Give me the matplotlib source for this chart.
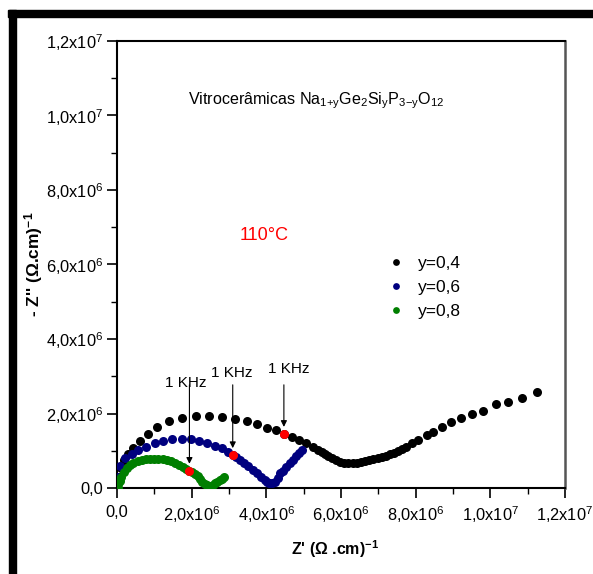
import matplotlib
matplotlib.use("Agg")
import matplotlib.pyplot as plt
from matplotlib.patches import Rectangle
from matplotlib.ticker import FuncFormatter, MultipleLocator

plt.rcParams['font.family'] = ['Liberation Sans', 'DejaVu Sans']
plt.rcParams['mathtext.fontset'] = 'custom'
plt.rcParams['mathtext.rm'] = 'Liberation Sans'
plt.rcParams['mathtext.bf'] = 'Liberation Sans:bold'

# Z' and -Z'' in units of 1e6
x04 = [0.05, 0.12, 0.20, 0.30, 0.44, 0.62, 0.82, 1.08, 1.40, 1.75, 2.12, 2.46, 2.82, 3.16, 3.47,
       3.74, 4.01, 4.25, 4.47, 4.68, 4.88, 5.06, 5.24, 5.39, 5.48, 5.57, 5.66, 5.75, 5.86, 5.97,
       6.08, 6.20, 6.31, 6.42, 6.53, 6.64, 6.75, 6.87, 6.98, 7.09, 7.20, 7.31, 7.42, 7.54, 7.64,
       7.74, 7.89, 8.07, 8.30, 8.47, 8.70, 8.95, 9.22, 9.52, 9.79, 10.15, 10.47, 10.86, 11.24]
y04 = [0.30, 0.55, 0.75, 0.92, 1.07, 1.27, 1.44, 1.63, 1.79, 1.88, 1.93, 1.93, 1.91, 1.86, 1.80,
       1.71, 1.62, 1.56, 1.46, 1.36, 1.29, 1.20, 1.11, 1.02, 0.96, 0.91, 0.85, 0.80, 0.75, 0.71,
       0.68, 0.66, 0.66, 0.68, 0.70, 0.72, 0.75, 0.78, 0.81, 0.84, 0.87, 0.91, 0.95, 1.00, 1.05,
       1.11, 1.20, 1.29, 1.42, 1.51, 1.63, 1.76, 1.89, 1.99, 2.07, 2.25, 2.30, 2.41, 2.57]

x06 = [0.02, 0.08, 0.21, 0.39, 0.57, 0.79, 1.02, 1.24, 1.48, 1.73, 1.97, 2.20, 2.42, 2.62, 2.80,
       2.98, 3.10, 3.20, 3.29, 3.40, 3.52, 3.63, 3.74, 3.85, 3.96, 4.03, 4.08, 4.15, 4.23, 4.30,
       4.37, 4.45, 4.53, 4.63, 4.71, 4.79, 4.87, 4.95]
y06 = [0.30, 0.60, 0.80, 0.92, 1.02, 1.11, 1.22, 1.27, 1.31, 1.32, 1.31, 1.26, 1.20, 1.14, 1.07,
       0.97, 0.89, 0.82, 0.75, 0.67, 0.59, 0.49, 0.39, 0.30, 0.21, 0.16, 0.13, 0.13, 0.17, 0.27,
       0.39, 0.47, 0.56, 0.66, 0.75, 0.85, 0.95, 1.03]

x08 = [0.02, 0.04, 0.07, 0.12, 0.18, 0.26, 0.35, 0.44, 0.55, 0.66, 0.77, 0.88, 0.99, 1.11, 1.22,
       1.33, 1.44, 1.55, 1.66, 1.78, 1.86, 1.94, 2.02, 2.09, 2.16, 2.22, 2.29, 2.36, 2.41, 2.45,
       2.50, 2.56, 2.62, 2.68, 2.75, 2.81, 2.87]
y08 = [0.00, 0.10, 0.20, 0.30, 0.42, 0.53, 0.61, 0.68, 0.73, 0.76, 0.78, 0.79, 0.79, 0.79, 0.77,
       0.75, 0.72, 0.68, 0.63, 0.57, 0.52, 0.47, 0.42, 0.38, 0.31, 0.23, 0.17, 0.11, 0.07, 0.04,
       0.05, 0.09, 0.13, 0.17, 0.21, 0.25, 0.30]

# 1 kHz points (y=0,4 / 0,6 / 0,8)
khz_x = [4.47, 3.10, 1.94]
khz_y = [1.46, 0.89, 0.47]
khz_top = [2.77, 2.77, 2.77]

series_labels = ['y=0,4', 'y=0,6', 'y=0,8']
series_colors = ['#000000', '#00007f', '#007f00']
E6 = 1e6


def sci_label(v, pos):
    if abs(v) < 1:
        return '0,0'
    exp = 6 if v < 1e7 - 1 else 7
    mant = ('%.1f' % (v / 10 ** exp)).replace('.', '{,}')
    return r'$\mathregular{%sx10^{%d}}$' % (mant, exp)


fig = plt.figure(figsize=(5.93, 5.74), dpi=100)
ax = fig.add_axes([0.1973, 0.1498, 0.7555, 0.7788])

ms = 6.5
for xs, ys, lab, col in zip([x04, x06, x08], [y04, y06, y08], series_labels, series_colors):
    ax.plot([v * E6 for v in xs], [v * E6 for v in ys], 'o', color=col, ms=ms,
            mec='none', label=lab, zorder=3)
ax.plot([v * E6 for v in khz_x], [v * E6 for v in khz_y], 'o', color='#ff0000',
        ms=ms, mec='none', zorder=4)

# frequency markers
for xk, yk, yt in zip(khz_x, khz_y, khz_top):
    ax.annotate('', xy=(xk * E6, (yk + 0.18) * E6), xytext=(xk * E6, yt * E6),
                arrowprops=dict(arrowstyle='-|>', color='black', lw=0.8,
                                mutation_scale=9, shrinkA=0, shrinkB=0))
txt_x = [4.60, 3.07, 1.83]
txt_y = [3.00, 2.91, 2.62]
for tx, ty in zip(txt_x, txt_y):
    ax.text(tx * E6, ty * E6, '1 KHz', ha='center', va='bottom', fontsize=11)

ax.text(5.33 * E6, 10.40 * E6,
        r'Vitrocerâmicas Na$\mathregular{_{1{+}y}}$Ge$\mathregular{_{2}}$Si$\mathregular{_{y}}$'
        r'P$\mathregular{_{3{-}y}}$O$\mathregular{_{12}}$',
        ha='center', va='center', fontsize=11.6)
ax.text(3.94 * E6, 6.77 * E6, '110°C', color='#ff0000', ha='center', va='center', fontsize=13)

ax.legend(loc='upper left', bbox_to_anchor=(0.568, 0.535), frameon=False, fontsize=12.5,
          handletextpad=0.3, labelspacing=0.5, markerscale=0.75, borderaxespad=0)

ax.set_xlim(0, 12 * E6)
ax.set_ylim(0, 12 * E6)
ax.xaxis.set_major_locator(MultipleLocator(2 * E6))
ax.xaxis.set_minor_locator(MultipleLocator(1 * E6))
ax.yaxis.set_major_locator(MultipleLocator(2 * E6))
ax.yaxis.set_minor_locator(MultipleLocator(1 * E6))
ax.xaxis.set_major_formatter(FuncFormatter(sci_label))
ax.yaxis.set_major_formatter(FuncFormatter(sci_label))
ax.tick_params(which='major', direction='out', length=7, width=1.2, labelsize=11.8)
ax.tick_params(axis='x', which='major', pad=5)
ax.tick_params(axis='y', which='major', pad=3)
ax.tick_params(which='minor', direction='out', length=4, width=1.0)
ax.tick_params(which='both', top=False, right=False)
for side in ['left', 'bottom', 'top']:
    ax.spines[side].set_linewidth(1.5)
ax.spines['right'].set_linewidth(1.8)
ax.spines['right'].set_color('#555555')

ax.set_xlabel("Z' (Ω .cm)$\\mathbf{^{-1}}$", fontsize=11.5, fontweight='bold')
ax.set_ylabel("- Z'' (Ω.cm)$\\mathbf{^{-1}}$", fontsize=12.5, fontweight='bold')
ax.xaxis.set_label_coords(0.486, -0.112)
ax.yaxis.set_label_coords(-0.16, 0.5)

# black frame on top and left edges
fig.patches.append(Rectangle((8 / 593, 1 - 17 / 574), 1, 7 / 574, transform=fig.transFigure,
                             color='black', zorder=10))
fig.patches.append(Rectangle((9 / 593, 0), 6.5 / 593, 1 - 10 / 574, transform=fig.transFigure,
                             color='black', zorder=10))

fig.savefig('out.png', dpi=100)
